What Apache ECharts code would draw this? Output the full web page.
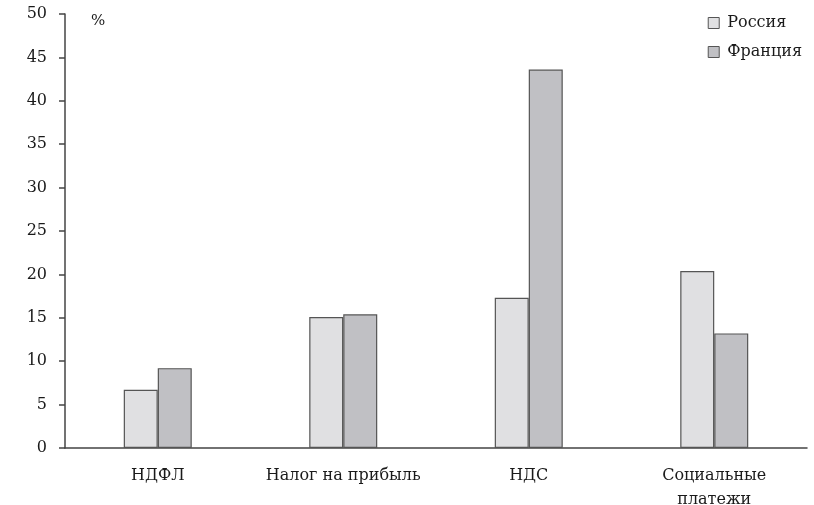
<!DOCTYPE html>
<html><head><meta charset="utf-8">
<script src="https://cdn.jsdelivr.net/npm/echarts@6/dist/echarts.min.js"></script>
<style>html,body{margin:0;padding:0;background:#fff}#c{width:814px;height:505px}</style>
</head><body><div id="c"></div>
<script>
const categories = ['НДФЛ', 'Налог на прибыль', 'НДС', 'Социальные\nплатежи'];
const russia = [6.7, 15.1, 17.3, 20.4];
const france = [9.2, 15.4, 43.6, 13.2];
const seriesNames = ['Россия', 'Франция'];
const font = 'DejaVu Serif';
const chart = echarts.init(document.getElementById('c'));
chart.setOption({
  animation: false,
  textStyle: { fontFamily: font },
  grid: { left: 65, right: 7, top: 14, bottom: 57, outerBoundsMode: 'none', containLabel: false },
  legend: {
    orient: 'vertical', right: 7, top: 10, icon: 'rect',
    itemWidth: 11, itemHeight: 11, itemGap: 13, itemStyle: { borderColor: '#555', borderWidth: 1 },
    textStyle: { fontFamily: font, fontSize: 16, color: '#1a1a1a', padding: [0, 0, 0, 3] },
    data: seriesNames
  },
  xAxis: {
    type: 'category', data: categories,
    axisLine: { lineStyle: { color: '#444', width: 1.5 } },
    axisTick: { show: false },
    axisLabel: { interval: 0, fontFamily: font, fontSize: 16, color: '#1a1a1a', margin: 16, lineHeight: 24 }
  },
  yAxis: {
    type: 'value', min: 0, max: 50, interval: 5, name: '%',
    nameLocation: 'end', nameGap: 0,
    nameTextStyle: { fontFamily: font, fontSize: 15, color: '#1a1a1a', align: 'left', padding: [0, 0, 0, 26], verticalAlign: 'top' },
    splitLine: { show: false },
    axisLine: { show: true, lineStyle: { color: '#444', width: 1.5 } },
    axisTick: { show: true, length: 6, lineStyle: { color: '#444', width: 1.5 } },
    axisLabel: { fontFamily: font, fontSize: 16, color: '#1a1a1a', margin: 18 }
  },
  series: [
    { name: seriesNames[0], type: 'bar', data: russia, barWidth: 34, barGap: '0%',
      itemStyle: { color: '#e0e0e2', borderColor: '#555', borderWidth: 1.2 } },
    { name: seriesNames[1], type: 'bar', data: france, barWidth: 34, barGap: '0%',
      itemStyle: { color: '#c0c0c4', borderColor: '#555', borderWidth: 1.2 } }
  ]
});
</script></body></html>
